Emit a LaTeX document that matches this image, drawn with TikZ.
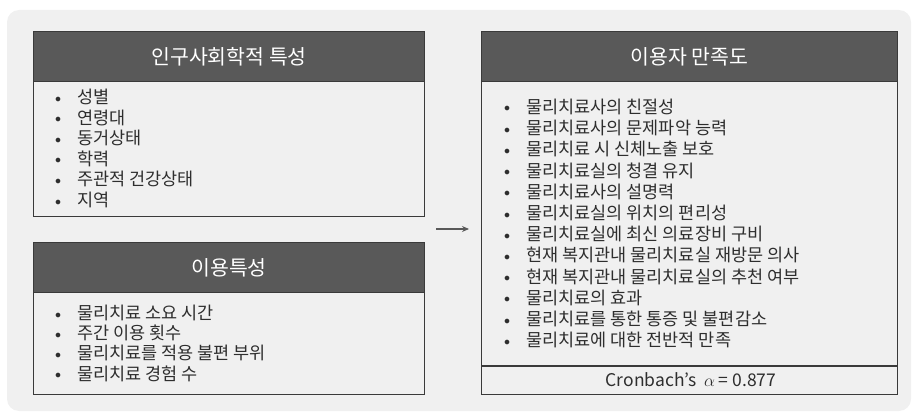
\documentclass[tikz,border=0pt]{standalone}
\usepackage{fontspec}
\setmainfont{Noto Sans CJK KR}
\usetikzlibrary{arrows.meta}
\definecolor{bgc}{HTML}{F0F0F0}
\definecolor{hdr}{HTML}{595959}
\definecolor{brd}{HTML}{3A3A3A}
\definecolor{txt}{HTML}{2E2E2E}
\tikzset{
  boxframe/.style={draw=brd, line width=1.2pt, fill=bgc, anchor=north west, inner sep=0pt},
  hdrbox/.style={draw=brd, line width=1.2pt, fill=hdr, anchor=north west, inner sep=0pt, text=white, font=\fontsize{20.5}{22}\selectfont},
  item/.style={anchor=base west, inner sep=0pt, text=txt, font=\fontsize{17.5}{20}\selectfont},
  conn/.style={draw=hdr, line width=1.3pt, -{Stealth[length=7pt,width=6pt]}}
}
\newcommand{\bul}{\makebox[22pt][l]{\raisebox{1.5pt}{\fontsize{13}{13}\selectfont$\bullet$}}}
\begin{document}
\begin{tikzpicture}[x=1pt,y=-1pt]
\useasboundingbox (0,0) rectangle (914,412);
\fill[bgc, rounded corners=12pt] (7,10) rectangle (911,411);
% box 1
\node[boxframe, minimum width=391pt, minimum height=185pt] (b1) at (33,31) {};
\node[hdrbox, minimum width=391pt, minimum height=50pt] (h1) at (b1.north west) {인구사회학적 특성};
\foreach \t [count=\i] in {성별,연령대,동거상태,학력,주관적 건강상태,지역}
  \node[item] (p\i) at (55,{103.5+20.6*(\i-1)}) {\bul\t};
% box 2
\node[boxframe, minimum width=391pt, minimum height=152pt] (b2) at (33,242) {};
\node[hdrbox, minimum width=391pt, minimum height=50pt] (h2) at (b2.north west) {이용특성};
\foreach \t [count=\i] in {물리치료 소요 시간,주간 이용 횟수,물리치료를 적용 불편 부위,물리치료 경험 수}
  \node[item] (u\i) at (55,{319.5+20.2*(\i-1)}) {\bul\t};
% box 3
\node[boxframe, minimum width=416pt, minimum height=363pt] (b3) at (481,31) {};
\node[hdrbox, minimum width=416pt, minimum height=50pt] (h3) at (b3.north west) {이용자 만족도};
\draw[brd, line width=1.2pt] (481,366) coordinate (cl) -- (897,366) coordinate (cr);
\foreach \t [count=\i] in {물리치료사의 친절성,물리치료사의 문제파악 능력,물리치료 시 신체노출 보호,물리치료실의 청결 유지,물리치료사의 설명력,물리치료실의 위치의 편리성,물리치료실에 최신 의료장비 구비,현재 복지관내 물리치료실 재방문 의사,현재 복지관내 물리치료실의 추천 여부,물리치료의 효과,물리치료를 통한 통증 및 불편감소,물리치료에 대한 전반적 만족}
  \node[item] (s\i) at (504,{113.5+21.2*(\i-1)}) {\bul\t};
\node[item, anchor=base] (cb) at (691,386.5) {Cronbach’s\ \ $\alpha$ = 0.877};
% arrow
\coordinate (as) at (436,229);
\coordinate (ae) at (469,229);
\draw[conn] (as) -- (ae);
\end{tikzpicture}
\end{document}
